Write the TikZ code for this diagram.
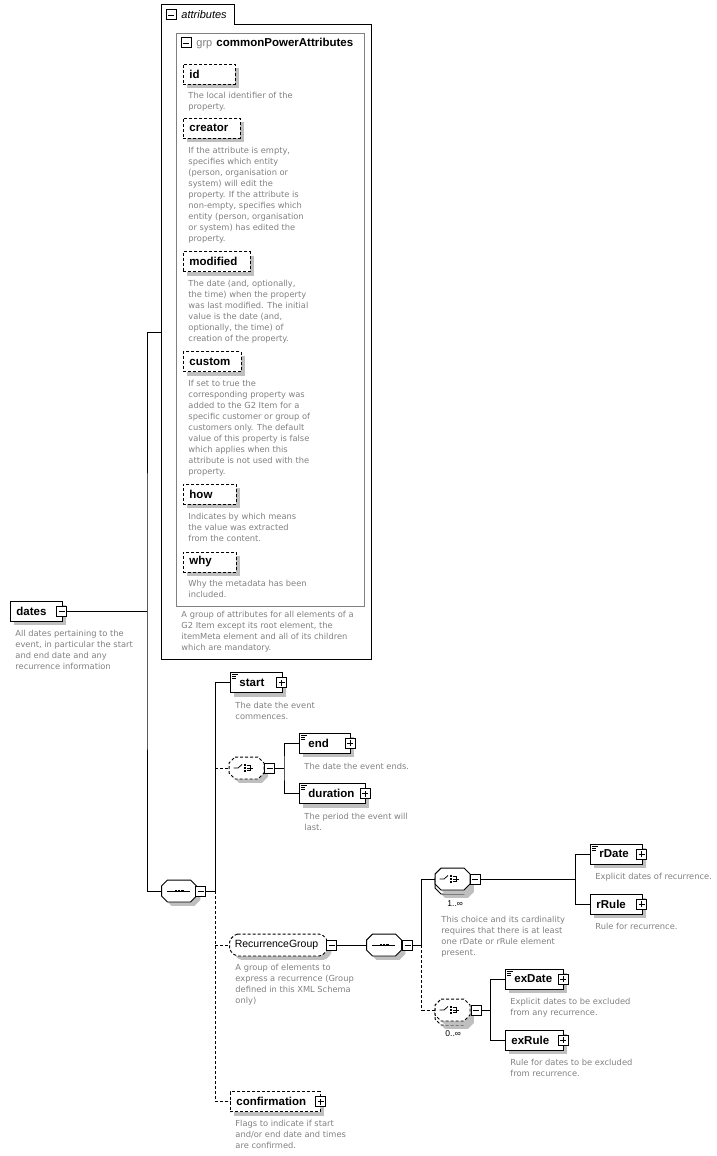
\documentclass[tikz,border=0pt]{standalone}
\usepackage{fontspec}
\setmainfont{Liberation Sans}
\newfontfamily\docfont{DejaVu Sans}
\usetikzlibrary{shadows}

\definecolor{doccol}{RGB}{128,128,128}
\tikzset{
  shd/.style={drop shadow={shadow xshift=4pt,shadow yshift=-4pt,fill=black!25,opacity=1}},
  elem/.style={draw, fill=white, shd, minimum height=20pt, inner xsep=6pt, inner ysep=0pt,
    text width=#1, align=left, anchor=west, font=\fontsize{11.5}{13}\selectfont\bfseries},
  opt/.style={dash pattern=on 3pt off 2pt},
  attbox/.style={elem=#1, opt},
  typed/.style={execute at begin node={\hspace*{3pt}}, path picture={
    \draw[solid, line width=0.6pt]
      ([shift={(2pt,-2pt)}]path picture bounding box.north west) -- ++(6,0)
      ([shift={(2pt,-4pt)}]path picture bounding box.north west) -- ++(4,0)
      ([shift={(2pt,-6pt)}]path picture bounding box.north west) -- ++(4,0);}},
  sgn/.style={draw, fill=white, minimum size=10pt, inner sep=0pt, line width=1pt},
  plusbox/.style={sgn, path picture={\draw[solid, line width=0.8pt]
      ([xshift=2pt]path picture bounding box.west) -- ([xshift=-2pt]path picture bounding box.east)
      ([yshift=2pt]path picture bounding box.south) -- ([yshift=-2pt]path picture bounding box.north);}},
  minusbox/.style={sgn, path picture={\draw[solid, line width=0.8pt]
      ([xshift=2pt]path picture bounding box.west) -- ([xshift=-2pt]path picture bounding box.east);}},
  octnode/.style={minimum width=34pt, minimum height=21pt, inner sep=0pt},
  doc/.style={anchor=north west, align=left, inner sep=0pt, text=doccol, font=\docfont\fontsize{8.3}{11}\selectfont},
  card/.style={anchor=base west, inner sep=0pt, font=\fontsize{8.5}{10}\selectfont},
}

% octagon round a named node
\newcommand\octo[2][]{%
  \draw[fill=white, shd, #1] ([xshift=6pt]#2.north west) -- ([xshift=-6pt]#2.north east)
    -- ([yshift=-6pt]#2.north east) -- ([yshift=6pt]#2.south east)
    -- ([xshift=-6pt]#2.south east) -- ([xshift=6pt]#2.south west)
    -- ([yshift=6pt]#2.south west) -- ([yshift=-6pt]#2.north west) -- cycle;}
\newcommand\seqmark[1]{%
  \begin{scope}[shift={(#1.center)}, line width=0.8pt]
    \draw (-12,0) -- (11,0);
    \foreach \dx in {-3.3,0,3.3} \fill (\dx-1.2,-1.3) rectangle (\dx+1.2,1.3);
  \end{scope}}
\newcommand\choicemark[1]{%
  \begin{scope}[shift={(#1.center)}, line width=0.8pt]
    \draw (-13,0) -- (-8.5,0) -- (-4.5,-3.5);
    \foreach \dy in {-2.6,0,2.6} \fill (-2.8,\dy-1) rectangle (-0.5,\dy+1);
    \draw (0.4,-2.6) -- (3.4,-2.6) -- (3.4,2.6) -- (0.4,2.6) (0.4,0) -- (6.8,0);
  \end{scope}}

\begin{document}
\begin{tikzpicture}[x=1pt, y=-1pt, line width=0.9pt]
\useasboundingbox (0,0) rectangle (717,1156);

% attribute container
\node (attrtab) [anchor=south west, minimum width=73pt, minimum height=19pt, inner sep=0pt] at (161,24) {};
\node (attr) [anchor=north west, minimum width=210pt, minimum height=635pt, inner sep=0pt] at (161,24) {};
\draw (attr.south west) -- (attrtab.north west) -- (attrtab.north east) -- (attrtab.south east)
  -- (attr.north east) -- (attr.south east) -- cycle;
\node[minusbox] (attrm) at (171,15) {};
\node[anchor=base west, inner sep=0pt, font=\fontsize{11}{12}\selectfont\itshape] (attrname) at (181,19) {attributes};

\node (grp) [draw=doccol, anchor=north west, minimum width=188pt, minimum height=573pt, inner sep=0pt] at (176,33) {};
\node[minusbox] (grpm) at (186,43) {};
\node[anchor=base west, inner sep=0pt, text=doccol, font=\fontsize{11}{12}\selectfont] (grplbl) at (196,47) {grp};
\node[anchor=base west, inner sep=0pt, font=\fontsize{11.5}{13}\selectfont\bfseries] (grpname) at (216,47) {commonPowerAttributes};

\node[attbox=40pt] (id) at (183,74) {id};
\node[doc] (idd) at (188,91.5) {The local identifier of the\\property.};
\node[attbox=45pt] (creator) at (183,128) {creator};
\node[doc] (creatord) at (188,146.5) {If the attribute is empty,\\specifies which entity\\(person, organisation or\\system) will edit the\\property. If the attribute is\\non-empty, specifies which\\entity (person, organisation\\or system) has edited the\\property.};
\node[attbox=55pt] (modified) at (183,261.5) {modified};
\node[doc] (modifiedd) at (188,279.5) {The date (and, optionally,\\the time) when the property\\was last modified. The initial\\value is the date (and,\\optionally, the time) of\\creation of the property.};
\node[attbox=46pt] (custom) at (183,361.5) {custom};
\node[doc] (customd) at (188,379.5) {If set to true the\\corresponding property was\\added to the G2 Item for a\\specific customer or group of\\customers only. The default\\value of this property is false\\which applies when this\\attribute is not used with the\\property.};
\node[attbox=41pt] (how) at (183,494) {how};
\node[doc] (howd) at (188,512.5) {Indicates by which means\\the value was extracted\\from the content.};
\node[attbox=41pt] (why) at (183,562) {why};
\node[doc] (whyd) at (188,579.5) {Why the metadata has been\\included.};
\node[doc] (grpd) at (181,610.5) {A group of attributes for all elements of a\\G2 Item except its root element, the\\itemMeta element and all of its children\\which are mandatory.};

% root element
\node[elem=40pt] (dates) at (10,611) {dates};
\node[minusbox] (datesm) at (61.5,611) {};
\node[doc] (datesd) at (15,629.5) {All dates pertaining to the\\event, in particular the start\\and end date and any\\recurrence information};

% content model
\node[octnode] (seq1) at (179,891) {};
\octo{seq1}
\seqmark{seq1}
\node[minusbox] (seq1m) at (200.5,891) {};

\node[elem=40pt, typed] (start) at (230,682.5) {start};
\node[plusbox] (startp) at (281.5,682.5) {};
\node[doc] (startd) at (235,701.5) {The date the event\\commences.};

\node[octnode] (ch1) at (246.5,768) {};
\octo[opt]{ch1}
\choicemark{ch1}
\node[minusbox] (ch1m) at (269.5,768) {};
\node[elem=39pt, typed] (end) at (299,743) {end};
\node[plusbox] (endp) at (350,743) {};
\node[doc] (endd) at (304,762.5) {The date the event ends.};
\node[elem=54pt, typed] (dur) at (299,793.5) {duration};
\node[plusbox] (durp) at (365,793.5) {};
\node[doc] (durd) at (304,812.5) {The period the event will\\last.};

\node[octnode, minimum width=97pt] (rec) at (278.5,945) {};
\octo[opt, rounded corners=2pt]{rec}
\node[inner sep=0pt, font=\fontsize{10.5}{12}\selectfont] (recname) at (276.5,945) {RecurrenceGroup};
\node[minusbox] (recm) at (331.5,945) {};
\node[doc] (recd) at (235,963.5) {A group of elements to\\express a recurrence (Group\\defined in this XML Schema\\only)};
\node[octnode] (seq2) at (384,945) {};
\octo{seq2}
\seqmark{seq2}
\node[minusbox] (seq2m) at (407.5,945) {};

\node[octnode] (chAb) at (452.5,883) {};
\octo{chAb}
\node[octnode] (chA) at (452.5,879) {};
\octo{chA}
\choicemark{chA}
\node[minusbox] (chAm) at (475,879) {};
\node[card] (chAc) at (447,906) {1..∞};
\node[doc] (chAd) at (441,915.5) {This choice and its cardinality\\requires that there is at least\\one rDate or rRule element\\present.};
\node[elem=40pt, typed] (rDate) at (590,854) {rDate};
\node[plusbox] (rDatep) at (641.5,854) {};
\node[doc] (rDated) at (595,872.5) {Explicit dates of recurrence.};
\node[elem=40pt] (rRule) at (590,904) {rRule};
\node[plusbox] (rRulep) at (641.5,904) {};
\node[doc] (rRuled) at (595,922.5) {Rule for recurrence.};

\node[octnode] (chBb) at (452.5,1014) {};
\octo[opt]{chBb}
\node[octnode] (chB) at (452.5,1010) {};
\octo[opt]{chB}
\choicemark{chB}
\node[minusbox] (chBm) at (476,1010) {};
\node[card] (chBc) at (445,1036) {0..∞};
\node[elem=46pt, typed] (exDate) at (505,979) {exDate};
\node[plusbox] (exDatep) at (563,979) {};
\node[doc] (exDated) at (510,997.5) {Explicit dates to be excluded\\from any recurrence.};
\node[elem=46pt] (exRule) at (505,1040) {exRule};
\node[plusbox] (exRulep) at (563,1040) {};
\node[doc] (exRuled) at (510,1058.5) {Rule for dates to be excluded\\from recurrence.};

\node[elem=78pt, opt] (conf) at (230,1101.5) {confirmation};
\node[plusbox] (confp) at (320.5,1101.5) {};
\node[doc] (confd) at (235,1119.5) {Flags to indicate if start\\and/or end date and times\\are confirmed.};

% connectors
\coordinate (t1) at (147,611);
\coordinate (attrin) at (161,332);
\draw (datesm.east) -- (t1);
\draw (attrin) -| (t1) |- (seq1.west);
\coordinate (t2) at (215,891);
\draw (seq1m.east) -- (t2) |- (start.west);
\draw[opt] (t2) |- (conf.west);
\draw[opt] (t2 |- ch1.west) -- (ch1.west);
\draw[opt] (t2 |- rec.west) -- (rec.west);
\draw (ch1m.east) -- ++(9,0) coordinate (t3);
\draw (end.west) -| (t3) |- (dur.west);
\draw (recm.east) -- (seq2.west);
\draw (seq2m.east) -- ++(8.5,0) coordinate (t4);
\draw (t4) |- (chA.west);
\draw[opt] (t4) |- (chB.west);
\draw (chAm.east) -- ++(95,0) coordinate (t5);
\draw (rDate.west) -| (t5) |- (rRule.west);
\draw (chBm.east) -- ++(9,0) coordinate (t6);
\draw (exDate.west) -| (t6) |- (exRule.west);
\end{tikzpicture}
\end{document}
